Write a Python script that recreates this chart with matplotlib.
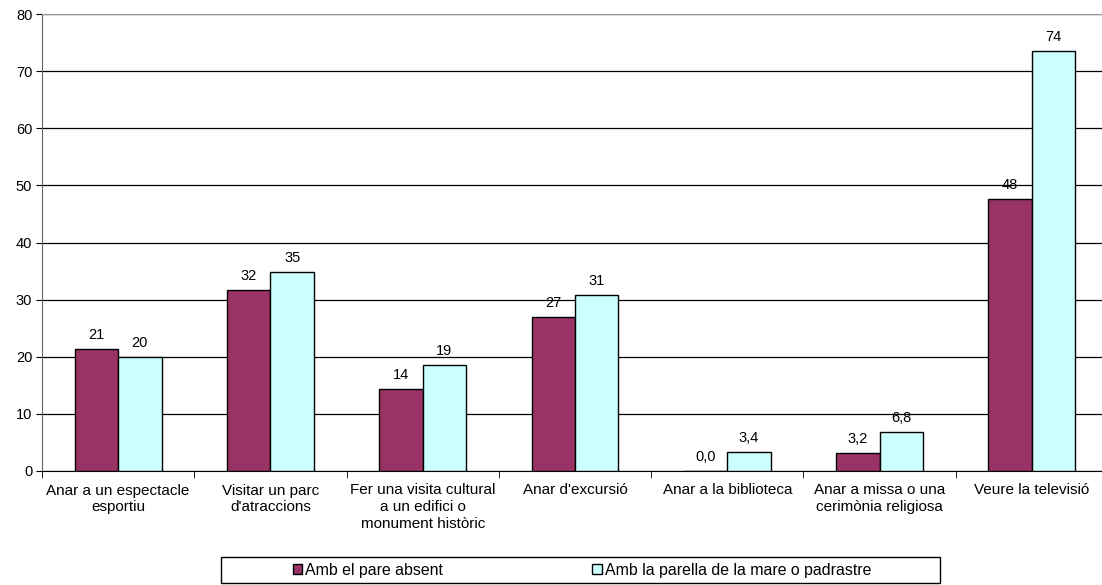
import numpy as np
import matplotlib.pyplot as plt
from matplotlib.patches import Rectangle

plt.rcParams['font.family'] = ['Liberation Sans', 'DejaVu Sans']

# Dades
categories = ["Anar a un espectacle\nesportiu", "Visitar un parc\nd'atraccions",
              "Fer una visita cultural\na un edifici o\nmonument històric",
              "Anar d'excursió", "Anar a la biblioteca",
              "Anar a missa o una\ncerimònia religiosa", "Veure la televisió"]
pare_absent = [21.4, 31.7, 14.3, 27.0, 0.0, 3.2, 47.6]
parella_mare = [19.9, 34.9, 18.5, 30.8, 3.4, 6.8, 73.6]
labels_pare = ["21", "32", "14", "27", "0,0", "3,2", "48"]
labels_parella = ["20", "35", "19", "31", "3,4", "6,8", "74"]
series_names = ["Amb el pare absent", "Amb la parella de la mare o padrastre"]

fig = plt.figure(figsize=(11.02, 5.85), dpi=100)
ax = fig.add_axes([42/1102, 114/585, 1066/1102, 457/585])

x = np.arange(len(categories))
w = 0.285
b1 = ax.bar(x - w/2, pare_absent, w, color='#993366', edgecolor='black', linewidth=1, zorder=3)
b2 = ax.bar(x + w/2, parella_mare, w, color='#CCFFFF', edgecolor='black', linewidth=1, zorder=3)

for bars, labs in [(b1, labels_pare), (b2, labels_parella)]:
    for r, t in zip(bars, labs):
        ax.annotate(t, (r.get_x() + r.get_width()/2, r.get_height()),
                    xytext=(0, 5), textcoords='offset points',
                    ha='center', va='bottom', fontsize=10.5)

ax.set_xlim(-0.5, 6.5)
ax.set_ylim(0, 80)
ax.set_yticks(range(0, 81, 10))
ax.yaxis.grid(True, color='black', linewidth=0.9, zorder=0)
ax.set_axisbelow(True)

ax.set_xticks(x)
ax.set_xticklabels(categories, fontsize=11, linespacing=1.25)
ax.set_xticks(np.arange(-0.5, 7, 1), minor=True)
ax.tick_params(axis='x', which='major', length=0, pad=9)
ax.tick_params(axis='x', which='minor', length=5, direction='out')
ax.tick_params(axis='y', length=4, direction='out', labelsize=10.5, pad=3)

ax.spines['top'].set_color('#999999')
ax.spines['right'].set_visible(False)
ax.spines['left'].set_color('#666666')
ax.spines['bottom'].set_color('black')

# Llegenda
fig.patches.append(Rectangle((221/1102, 2/585), 719/1102, 26/585, transform=fig.transFigure,
                             fill=False, edgecolor='black', linewidth=1))
leg = fig.legend([b1, b2], series_names, loc='center', bbox_to_anchor=(582/1102, 15/585),
                 ncol=2, frameon=False, fontsize=11.4, handlelength=0.6, handleheight=0.6,
                 handletextpad=0.2, columnspacing=9.4, borderpad=0)

fig.savefig('out.png', dpi=100)
